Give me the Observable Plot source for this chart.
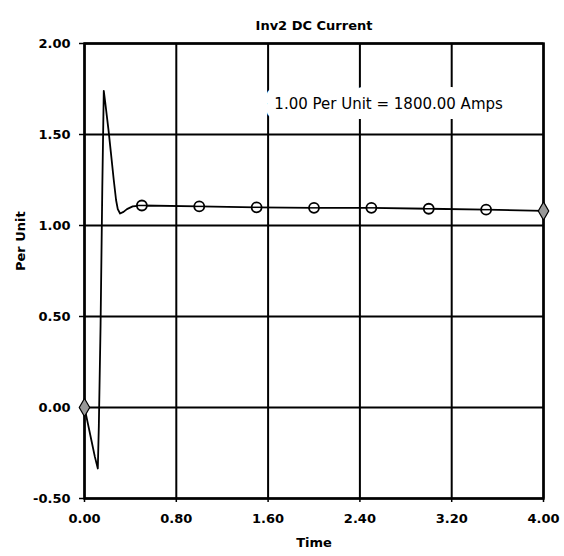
<!DOCTYPE html>
<html>
<head>
<meta charset="utf-8">
<script src="https://cdn.jsdelivr.net/npm/d3@7"></script>
<script src="https://cdn.jsdelivr.net/npm/@observablehq/plot@0.6"></script>
<style>
  html, body { margin: 0; padding: 0; background: #fff; }
  #chart svg { display: block; }
</style>
</head>
<body>
<div id="chart"></div>
<script>
// Tick values
const xTicks = [0, 0.8, 1.6, 2.4, 3.2, 4.0];
const yTicks = [-0.5, 0, 0.5, 1.0, 1.5, 2.0];

// Curve samples (time, per-unit current)
const time = [0, 0.03, 0.06, 0.09, 0.116, 0.125, 0.14, 0.155, 0.168, 0.18, 0.195, 0.21, 0.23, 0.255, 0.275, 0.29, 0.31, 0.34, 0.37, 0.42, 0.5,
              1.0, 1.5, 2.0, 2.5, 3.0, 3.5, 4.0];
const current = [0, -0.09, -0.18, -0.27, -0.335, -0.10, 0.45, 1.20, 1.74, 1.68, 1.60, 1.52, 1.40, 1.25, 1.14, 1.09, 1.066, 1.075, 1.09, 1.105, 1.11,
                 1.105, 1.10, 1.097, 1.097, 1.092, 1.087, 1.08];

// Marker positions
const circleTimes = [0.5, 1.0, 1.5, 2.0, 2.5, 3.0, 3.5];
const diamondTimes = [0, 4.0];

const titleText = "Inv2 DC Current";
const xLabel = "Time";
const yLabel = "Per Unit";
const noteText = "1.00 Per Unit = 1800.00 Amps";

const data = time.map((t, i) => ({t, v: current[i]}));
const lookup = t => data.find(d => d.t === t);
const circles = circleTimes.map(lookup);
const diamonds = diamondTimes.map(lookup);

const font = "DejaVu Sans, sans-serif";

const chart = Plot.plot({
  width: 564,
  height: 556,
  marginLeft: 84,
  marginRight: 21,
  marginTop: 43,
  marginBottom: 58,
  style: {fontFamily: font, background: "white", color: "black"},
  x: {domain: [0, 4], label: null},
  y: {domain: [-0.5, 2], label: null},
  marks: [
    Plot.gridX(xTicks, {stroke: "black", strokeOpacity: 1, strokeWidth: 2}),
    Plot.gridY(yTicks, {stroke: "black", strokeOpacity: 1, strokeWidth: 2}),
    Plot.text([noteText], {x: 2.65, y: 1.665, text: d => d, fontSize: 15, textAnchor: "middle", fill: "black", stroke: "white", strokeWidth: 20, strokeLinejoin: "round"}),
    Plot.frame({stroke: "black", strokeWidth: 2.5}),
    Plot.axisX(xTicks, {tickSize: 4, tickPadding: 11, tickFormat: d => d.toFixed(2), fontSize: 13, fontWeight: "bold", label: null, strokeWidth: 1.5}),
    Plot.axisY(yTicks, {tickSize: 5, tickPadding: 9, tickFormat: d => d.toFixed(2), fontSize: 13, fontWeight: "bold", label: null, strokeWidth: 1.5}),
    Plot.line(data, {x: "t", y: "v", stroke: "black", strokeWidth: 1.8}),
    Plot.dot(circles, {x: "t", y: "v", r: 5, stroke: "black", fill: "white", strokeWidth: 1.8}),
    Plot.ruleY(circles, {x1: d => d.t - 0.045, x2: d => d.t + 0.045, y: "v", stroke: "black", strokeWidth: 1.5}),
    Plot.dot(diamonds, {x: "t", y: "v", r: 5.5, symbol: "diamond", stroke: "black", fill: "#999", strokeWidth: 1.2}),
    Plot.text([titleText], {frameAnchor: "top", dy: -18, text: d => d, fontSize: 13, fontWeight: "bold", lineAnchor: "middle", fill: "black"}),
    Plot.text([xLabel], {frameAnchor: "bottom", dy: 44, text: d => d, fontSize: 13, fontWeight: "bold", lineAnchor: "middle", fill: "black"}),
    Plot.text([yLabel], {frameAnchor: "left", dx: -64, rotate: -90, text: d => d, fontSize: 13, fontWeight: "bold", lineAnchor: "middle", fill: "black"})
  ]
});

document.getElementById("chart").appendChild(chart);
</script>
</body>
</html>
